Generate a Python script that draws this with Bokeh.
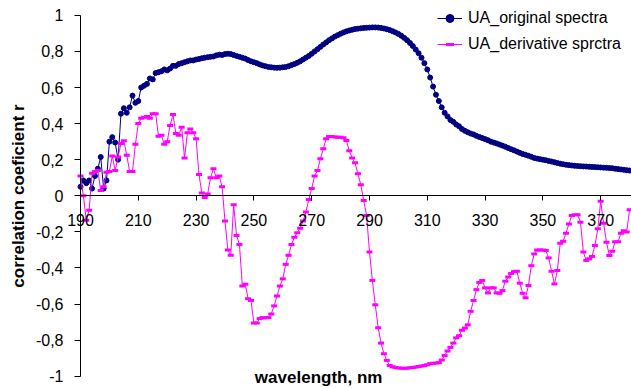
from bokeh.plotting import figure
from bokeh.models import Range1d, FixedTicker, Legend, LegendItem, Label
from bokeh.embed import file_html
from bokeh.resources import INLINE

# wavelength categories (nm), 1 nm step
wavelength = list(range(190, 381))

# UA_original spectra (correlation coefficient r), 190..380 nm
original = [
    0.05, 0.085, 0.07, 0.085, 0.04, 0.11, 0.15, 0.215, 0.04, 0.085,      # 190-199
    0.30, 0.325, 0.295, 0.20, 0.455, 0.485, 0.46, 0.49, 0.555, 0.515,    # 200-209
    0.525, 0.60, 0.61, 0.62, 0.65, 0.645, 0.68, 0.685, 0.69, 0.70,       # 210-219
    0.695, 0.705, 0.72, 0.72, 0.73, 0.735, 0.74, 0.745, 0.75, 0.75,      # 220-229
    0.755, 0.758, 0.762, 0.765, 0.768, 0.77, 0.772, 0.778, 0.782, 0.78,  # 230-239
    0.785, 0.787, 0.785, 0.78, 0.775, 0.77, 0.765, 0.76, 0.752, 0.745,   # 240-249
    0.74, 0.735, 0.728, 0.722, 0.718, 0.714, 0.712, 0.71, 0.709, 0.71,   # 250-259
    0.712, 0.714, 0.718, 0.724, 0.73, 0.737, 0.745, 0.755, 0.765, 0.775, # 260-269
    0.787, 0.80, 0.812, 0.825, 0.838, 0.85, 0.862, 0.872, 0.882, 0.89,   # 270-279
    0.898, 0.905, 0.911, 0.916, 0.92, 0.924, 0.926, 0.928, 0.93, 0.931,  # 280-289
    0.932, 0.933, 0.933, 0.932, 0.93, 0.927, 0.923, 0.918, 0.912, 0.905, # 290-299
    0.897, 0.887, 0.875, 0.862, 0.847, 0.83, 0.81, 0.79, 0.765, 0.735,   # 300-309
    0.70, 0.655, 0.605, 0.56, 0.525, 0.49, 0.46, 0.44, 0.42, 0.41,       # 310-319
    0.395, 0.385, 0.37, 0.36, 0.352, 0.345, 0.34, 0.332, 0.326, 0.32,    # 320-329
    0.314, 0.308, 0.30, 0.295, 0.29, 0.284, 0.278, 0.272, 0.265, 0.258,  # 330-339
    0.252, 0.245, 0.238, 0.232, 0.227, 0.222, 0.216, 0.21, 0.206, 0.203, # 340-349
    0.20, 0.197, 0.193, 0.19, 0.186, 0.182, 0.178, 0.175, 0.172, 0.17,   # 350-359
    0.168, 0.166, 0.165, 0.164, 0.163, 0.162, 0.161, 0.16, 0.159, 0.158, # 360-369
    0.157, 0.156, 0.155, 0.154, 0.153, 0.15, 0.148, 0.146, 0.144, 0.142, # 370-379
    0.14,                                                                # 380
]

# UA_derivative sprctra (correlation coefficient r), 190..380 nm
derivative = [
    0.11, 0.00, -0.135, -0.08, 0.125, 0.135, 0.14, 0.03, 0.05, 0.13,           # 190-199
    0.135, 0.22, 0.14, 0.215, 0.29, 0.305, 0.225, 0.135, 0.135, 0.285,         # 200-209
    0.40, 0.43, 0.435, 0.44, 0.43, 0.455, 0.455, 0.33, 0.335, 0.285,           # 210-219
    0.30, 0.39, 0.45, 0.345, 0.335, 0.38, 0.21, 0.35, 0.37, 0.35,              # 220-229
    0.316, 0.118, 0.015, -0.01, 0.01, 0.10, 0.15, 0.10, 0.11, 0.05,            # 230-239
    -0.14, -0.30, -0.33, -0.05, -0.22, -0.27, -0.50, -0.49, -0.57, -0.58,      # 240-249
    -0.705, -0.705, -0.68, -0.675, -0.675, -0.675, -0.655, -0.61, -0.555, -0.50,  # 250-259
    -0.46, -0.38, -0.33, -0.27, -0.23, -0.205, -0.18, -0.14, -0.09, -0.02,     # 260-269
    0.04, 0.11, 0.14, 0.205, 0.26, 0.316, 0.328, 0.328, 0.326, 0.324,          # 270-279
    0.324, 0.322, 0.306, 0.25, 0.21, 0.183, 0.122, 0.061, -0.026, -0.109,      # 280-289
    -0.312, -0.469, -0.604, -0.731, -0.816, -0.875, -0.912, -0.94, -0.947, -0.952,  # 290-299
    -0.954, -0.955, -0.956, -0.955, -0.953, -0.951, -0.949, -0.946, -0.943, -0.94,  # 300-309
    -0.936, -0.93, -0.928, -0.927, -0.924, -0.91, -0.885, -0.86, -0.84, -0.816,     # 310-319
    -0.787, -0.775, -0.745, -0.733, -0.715, -0.64, -0.58, -0.52, -0.48, -0.469,     # 320-329
    -0.51, -0.538, -0.51, -0.51, -0.538, -0.54, -0.525, -0.473, -0.45, -0.43,       # 330-339
    -0.42, -0.418, -0.484, -0.54, -0.565, -0.497, -0.387, -0.322, -0.30, -0.30,     # 340-349
    -0.30, -0.303, -0.344, -0.418, -0.488, -0.414, -0.263, -0.252, -0.207, -0.156,  # 350-359
    -0.109, -0.105, -0.105, -0.146, -0.312, -0.358, -0.349, -0.336, -0.275, -0.183, # 360-369
    -0.03, -0.152, -0.257, -0.331, -0.307, -0.254, -0.254, -0.207, -0.193, -0.20,   # 370-379
    -0.077,                                                                          # 380
]

x_ticks = [190, 210, 230, 250, 270, 290, 310, 330, 350, 370]
y_ticks = [-1, -0.8, -0.6, -0.4, -0.2, 0, 0.2, 0.4, 0.6, 0.8, 1]
y_tick_labels = ["-1", "-0,8", "-0,6", "-0,4", "-0,2", "0", "0,2", "0,4", "0,6", "0,8", "1"]

FONT = "Liberation Sans"
BLUE = "#000080"
MAGENTA = "#FF00FF"

# frame covers the whole canvas; axes cross inside it (at 190 nm and r = 0)
p = figure(width=631, height=388, output_backend="svg", toolbar_location=None,
           x_range=Range1d(162.32, 380.66), y_range=Range1d(-1.0676, 1.082),
           min_border_left=0, min_border_right=0, min_border_top=0, min_border_bottom=0)
p.grid.visible = False
p.outline_line_color = None
p.background_fill_color = "white"
p.border_fill_color = "white"

xa = p.xaxis[0]
xa.fixed_location = 0
xa.bounds = (190, 380.66)
xa.ticker = FixedTicker(ticks=x_ticks)
xa.minor_tick_line_color = None
xa.major_tick_out = 5
xa.major_tick_in = 0
xa.major_label_standoff = 13
xa.axis_line_color = "black"
xa.major_tick_line_color = "black"
xa.major_label_text_font = FONT
xa.major_label_text_font_size = "16px"
xa.major_label_text_color = "black"

ya = p.yaxis[0]
ya.fixed_location = 190
ya.bounds = (-1, 1)
ya.ticker = FixedTicker(ticks=y_ticks)
ya.major_label_overrides = {t: s for t, s in zip(y_ticks, y_tick_labels)}
ya.minor_tick_line_color = None
ya.major_tick_out = 6
ya.major_tick_in = 0
ya.major_label_standoff = 11
ya.axis_line_color = "black"
ya.major_tick_line_color = "black"
ya.major_label_text_font = FONT
ya.major_label_text_font_size = "16px"
ya.major_label_text_color = "black"
ya.axis_label = "correlation coeficient r"
ya.axis_label_text_font = FONT
ya.axis_label_text_font_size = "17px"
ya.axis_label_text_font_style = "bold"
ya.axis_label_text_color = "black"
ya.axis_label_standoff = 5

bl = p.line(wavelength, original, line_color=BLUE, line_width=1)
bs = p.scatter(wavelength, original, marker="circle", size=5,
               fill_color=BLUE, line_color=BLUE)
ml = p.line(wavelength, derivative, line_color=MAGENTA, line_width=1)
ms = p.scatter(wavelength, derivative, marker="dash", size=6, line_width=3,
               line_color=MAGENTA)

legend = Legend(items=[LegendItem(label="UA_original spectra", renderers=[bl, bs]),
                       LegendItem(label="UA_derivative sprctra", renderers=[ml, ms])],
                location=(437, 334), padding=0, margin=0, spacing=6,
                glyph_width=25, glyph_height=20, label_height=20, label_standoff=6,
                background_fill_alpha=0, border_line_color=None,
                label_text_font=FONT, label_text_font_size="16px",
                label_text_color="black")
p.add_layout(legend)

xtitle = Label(x=272.4, y=-1.005, text="wavelength, nm", text_align="center",
               text_baseline="middle", text_font=FONT, text_font_size="17px",
               text_font_style="bold", text_color="black")
p.add_layout(xtitle)

open("out.html", "w").write(file_html(p, INLINE))
